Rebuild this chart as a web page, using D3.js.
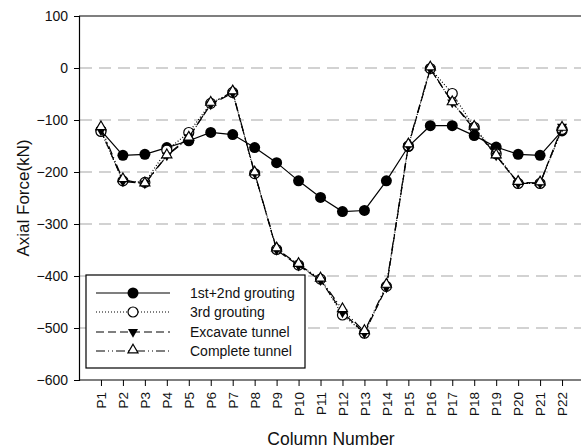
<!DOCTYPE html>
<html>
<head>
<meta charset="utf-8">
<script src="https://cdn.jsdelivr.net/npm/d3@7"></script>
<style>
  body { margin: 0; background: #fff; }
  svg { display: block; font-family: "Liberation Sans", Arial, sans-serif; }
</style>
</head>
<body>
<svg id="chart" width="581" height="448"></svg>
<script>
const columns = ["P1","P2","P3","P4","P5","P6","P7","P8","P9","P10","P11","P12","P13","P14","P15","P16","P17","P18","P19","P20","P21","P22"];
const grouting12 = [-120,-168,-166,-153,-140,-124,-128,-153,-182,-217,-249,-276,-274,-217,-151,-111,-111,-130,-152,-166,-168,-121];
const grouting3 = [-122,-217,-220,-158,-124,-68,-47,-203,-349,-379,-406,-475,-510,-420,-150,-1,-49,-114,-165,-222,-222,-118];
const excavate = [-120,-218,-222,-168,-133,-70,-48,-202,-350,-380,-408,-470,-510,-422,-150,-2,-66,-118,-168,-222,-222,-113];
const complete = [-115,-215,-223,-169,-135,-68,-46,-202,-348,-378,-406,-465,-507,-418,-148,0,-67,-114,-169,-220,-221,-116];
const yTicks = [100,0,-100,-200,-300,-400,-500,-600];
const seriesNames = ["1st+2nd grouting","3rd grouting","Excavate tunnel","Complete tunnel"];

const svg = d3.select("#chart");

const x = d3.scaleLinear().domain([0, 23]).range([79, 584]);
const y = d3.scaleLinear().domain([-600, 100]).range([380, 16]);

// grid lines
svg.append("g")
    .selectAll("line")
    .data(yTicks.filter(d => d > -600 && d < 100))
    .join("line")
    .attr("x1", 80).attr("x2", 581)
    .attr("y1", d => y(d)).attr("y2", d => y(d))
    .style("stroke", "#c4c4c4")
    .style("stroke-width", 1.3)
    .style("stroke-dasharray", "12,7");

// top frame line
svg.append("line")
    .attr("x1", 79).attr("x2", 581)
    .attr("y1", y(100)).attr("y2", y(100))
    .style("stroke", "#000").style("stroke-width", 1.2);

// axes
const yAxis = svg.append("g")
    .attr("transform", "translate(79,0)")
    .call(d3.axisLeft(y).tickValues(yTicks).tickSize(5).tickPadding(6));
yAxis.select(".domain").style("stroke-width", 1.2);
yAxis.selectAll("text").style("font-size", "14px").style("fill", "#111");

const xAxis = svg.append("g")
    .attr("transform", "translate(0,380)")
    .call(d3.axisBottom(x).tickValues(d3.range(1, 23)).tickFormat(d => columns[d - 1]).tickSize(6).tickSizeOuter(0));
xAxis.select(".domain").attr("d", "M79,0H581").style("stroke-width", 1.2);
xAxis.selectAll("text")
    .attr("transform", "rotate(-90)")
    .attr("text-anchor", "end")
    .attr("x", -12)
    .attr("y", 0)
    .attr("dy", "0.35em")
    .style("font-size", "13.5px")
    .style("fill", "#111");

// axis titles
svg.append("text")
    .attr("transform", "translate(29,198) rotate(-90)")
    .attr("text-anchor", "middle")
    .style("font-size", "17px")
    .style("fill", "#111")
    .text("Axial Force(kN)");

svg.append("text")
    .attr("x", 331).attr("y", 445)
    .attr("text-anchor", "middle")
    .style("font-size", "17.5px")
    .style("fill", "#111")
    .text("Column Number");

const line = d3.line()
    .x((d, i) => x(i + 1))
    .y(d => y(d));

const styles = [
    { data: grouting12, dash: null, marker: "fillCircle" },
    { data: grouting3, dash: "1,2", marker: "openCircle" },
    { data: excavate, dash: "8,4", marker: "downTri" },
    { data: complete, dash: "9,3,1,3,1,3", marker: "upTri" }
];

const tri = d3.symbol().type(d3.symbolTriangle).size(44);

function drawMarker(g, type, cx, cy) {
    if (type === "fillCircle") {
        g.append("circle").attr("cx", cx).attr("cy", cy).attr("r", 5.5).style("fill", "#000");
    } else if (type === "openCircle") {
        g.append("circle").attr("cx", cx).attr("cy", cy).attr("r", 5).style("fill", "#fff").style("stroke", "#000").style("stroke-width", 1.2);
    } else if (type === "downTri") {
        g.append("path").attr("d", tri()).attr("transform", `translate(${cx},${cy}) rotate(180)`).style("fill", "#000");
    } else {
        g.append("path").attr("d", tri()).attr("transform", `translate(${cx},${cy - 1})`).style("fill", "#fff").style("stroke", "#000").style("stroke-width", 1.2);
    }
}

styles.forEach(s => {
    svg.append("path")
        .datum(s.data)
        .attr("d", line)
        .style("fill", "none")
        .style("stroke", "#000")
        .style("stroke-width", 1.2)
        .style("stroke-dasharray", s.dash);
    const g = svg.append("g");
    s.data.forEach((v, i) => drawMarker(g, s.marker, x(i + 1), y(v)));
});

// legend
const legend = svg.append("g");
legend.append("rect")
    .attr("x", 86).attr("y", 275).attr("width", 219).attr("height", 93)
    .style("fill", "#fff").style("stroke", "#000").style("stroke-width", 1.2);

const rowY = [293, 312, 332, 351];
styles.forEach((s, i) => {
    legend.append("line")
        .attr("x1", 96).attr("x2", 170)
        .attr("y1", rowY[i]).attr("y2", rowY[i])
        .style("stroke", "#000").style("stroke-width", 1.2)
        .style("stroke-dasharray", s.dash);
    drawMarker(legend, s.marker, 133, rowY[i]);
    legend.append("text")
        .attr("x", 190).attr("y", rowY[i])
        .attr("dy", "0.35em")
        .style("font-size", "14px")
        .style("fill", "#111")
        .text(seriesNames[i]);
});
</script>
</body>
</html>
